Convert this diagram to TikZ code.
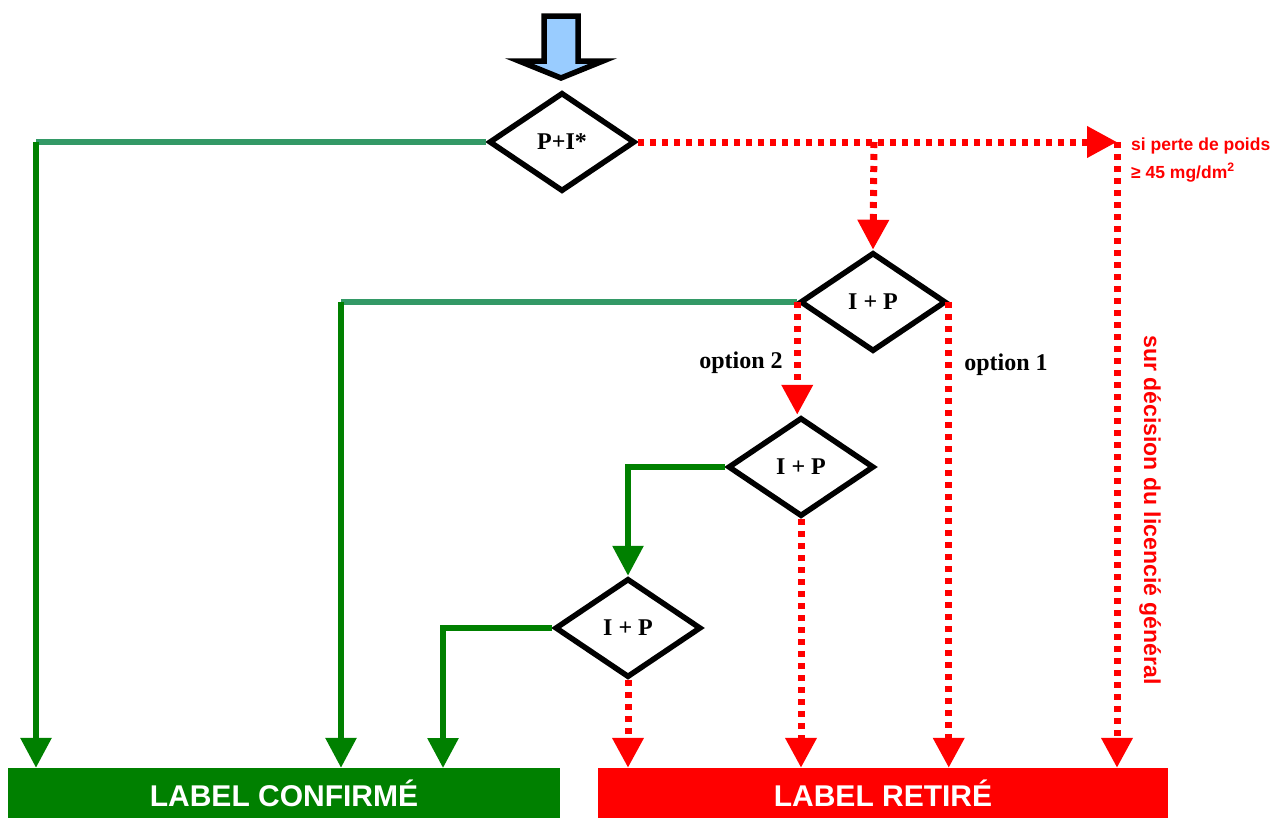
\documentclass[tikz,border=0pt]{standalone}
\usepackage{fontspec}
\setmainfont{Liberation Serif}
\newfontfamily\arialf{Liberation Sans}
\usetikzlibrary{shapes.geometric,arrows.meta}
\definecolor{seagreen}{HTML}{339966}
\definecolor{dkgreen}{HTML}{008000}
\definecolor{skyfill}{HTML}{99CCFF}
\begin{document}
\begin{tikzpicture}[x=1pt,y=-1pt,
  test/.style={diamond, draw=black, line width=5.5pt, inner sep=0pt,
    minimum width=146pt, minimum height=99pt,
    font=\fontsize{24}{28}\selectfont\bfseries},
  tip/.style={-{Triangle[width=30pt,length=30pt]}},
  passh/.style={line width=5.5pt, seagreen},
  pass/.style={line width=6pt, dkgreen},
  fail/.style={line width=7pt, red, dash pattern=on 6pt off 6pt},
  outcome/.style={rectangle, inner sep=0pt, minimum height=50pt, text=white,
    font=\arialf\fontsize{30}{34}\selectfont\bfseries},
  optlabel/.style={font=\fontsize{24}{28}\selectfont\bfseries},
  redlabel/.style={text=red, inner sep=0pt, font=\arialf\bfseries},
]
\useasboundingbox (0,0) rectangle (1285,819);

% entry arrow
\draw[line width=5.5pt, fill=skyfill, line join=miter]
  (544,16) -- (578,16) -- (578,61) -- (603,61) -- (561,78) -- (519,61) -- (544,61) -- cycle;

% decision diamonds
\node[test] (D1) at (562,142) {P+I*};
\node[test] (D2) at (873,302) {I + P};
\node[test] (D3) at (801,467) {I + P};
\node[test] (D4) at (628,628) {I + P};

% outcomes
\node[outcome, fill=dkgreen, minimum width=552pt] (conf) at (284,793) {LABEL CONFIRMÉ};
\node[outcome, fill=red, minimum width=570pt] (ret) at (883,793) {LABEL RETIRÉ};

% helper points
\coordinate (k1) at (36,142);
\coordinate (k2) at (341,302);
\coordinate (g3) at (443,768);
\coordinate (j1) at (874,142);
\coordinate (rt) at (1117,142);

% positive branches
\draw[passh] (D1.west) -- (k1);
\draw[pass, tip] (k1) -- (k1 |- conf.north);
\draw[passh] (D2.west) -- (k2);
\draw[pass, tip] (k2) -- (k2 |- conf.north);
\draw[pass, tip] (D3.west) -| (D4.north);
\draw[pass, tip] (D4.west) -| (g3);

% negative branches
\draw[fail, tip] (D1.east) -- (rt);
\draw[fail, tip] (j1) -- (D2.north);
\draw[fail, tip] (rt) -- (rt |- ret.north);
\draw[fail, tip] (D2.west) -- (D2.west |- D3.north);
\draw[fail, tip] (D2.east) -- (D2.east |- ret.north);
\draw[fail, tip] (D3.south) -- (D3.south |- ret.north);
\draw[fail, tip] (D4.south) -- (D4.south |- ret.north);

% labels
\node[optlabel] (o2) at (741,363) {option 2};
\node[optlabel] (o1) at (1006,365) {option 1};
\node[redlabel, anchor=base west, font=\arialf\bfseries\fontsize{17.5}{20}\selectfont] (s1) at (1131,150) {si perte de poids};
\node[redlabel, anchor=base west, font=\arialf\bfseries\fontsize{17.5}{20}\selectfont] (s2) at (1131,178) {≥ 45 mg/dm\textsuperscript{2}};
\node[redlabel, rotate=-90, font=\arialf\bfseries\fontsize{23}{26}\selectfont] (s3) at (1150,510) {sur décision du licencié général};
\end{tikzpicture}
\end{document}
